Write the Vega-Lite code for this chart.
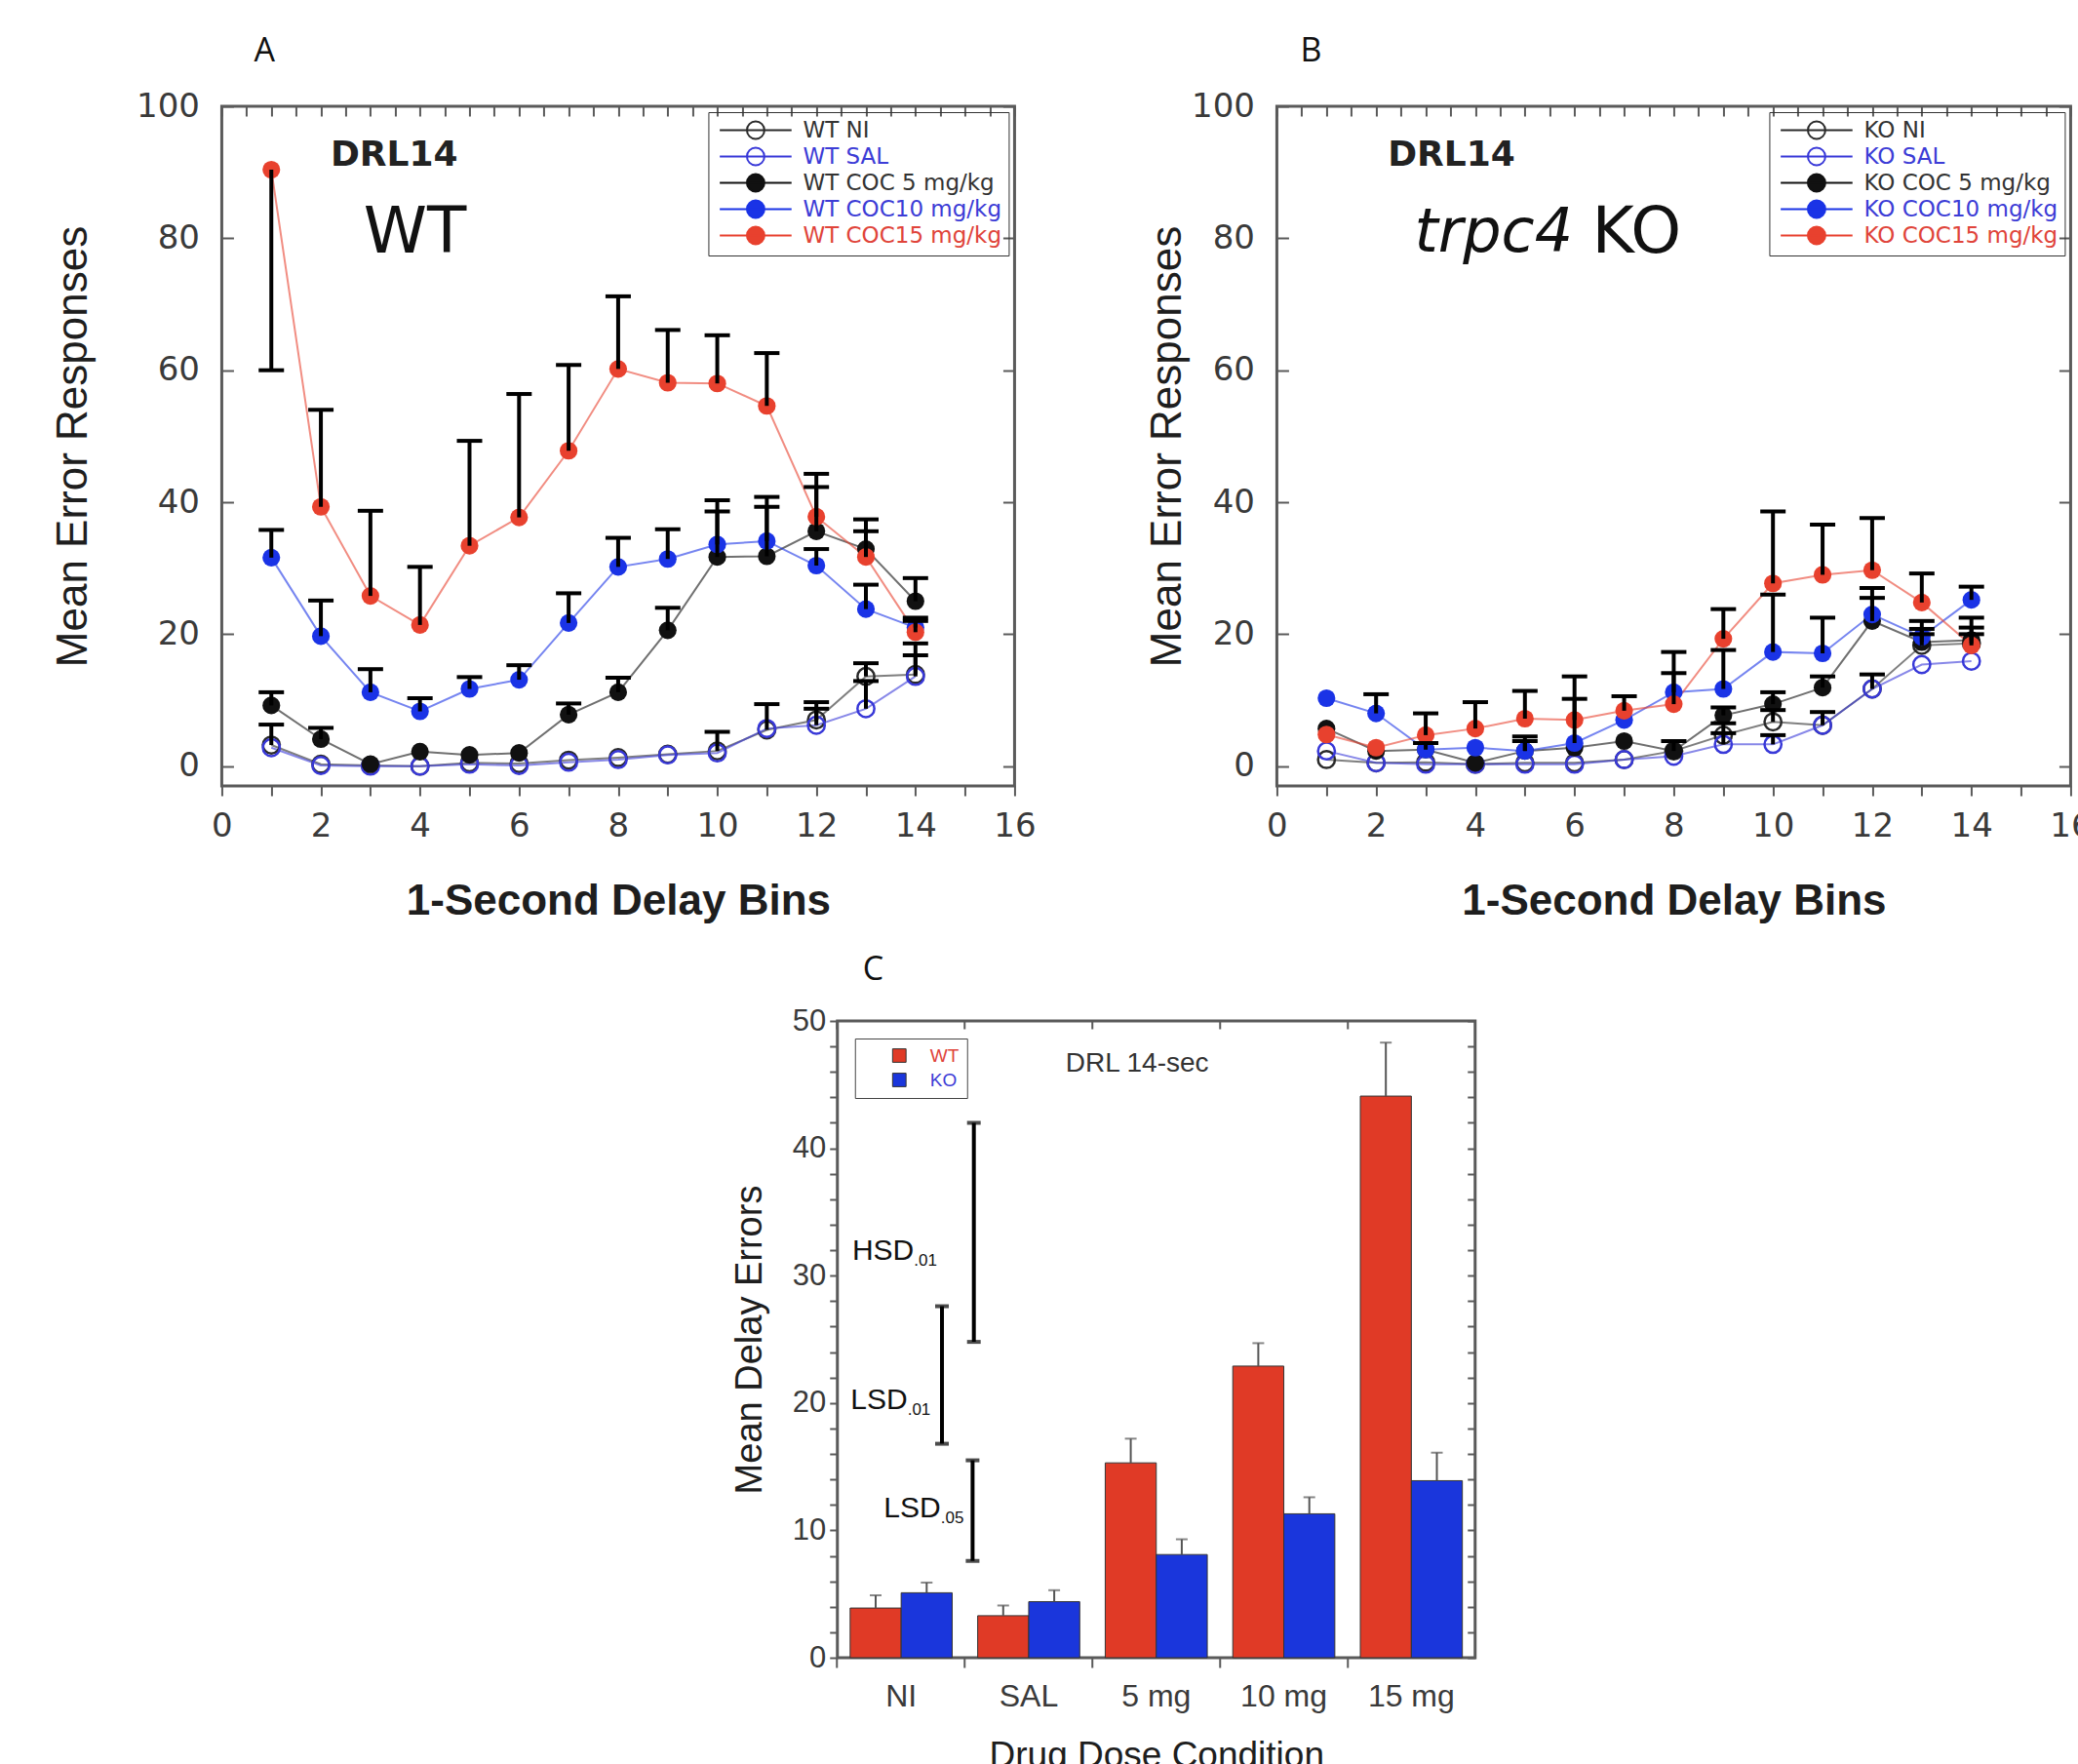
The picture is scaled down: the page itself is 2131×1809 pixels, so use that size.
{
"$schema": "https://vega.github.io/schema/vega-lite/v6.json",
"background": "white",
"padding": {"left": 52, "top": 34, "right": 0, "bottom": 0},
"config": {
  "view": {"stroke": "#5a5a5a", "strokeWidth": 3},
  "axis": {"grid": false, "domain": false, "labelColor": "#3a3a3a", "titleColor": "#1e1e1e", "tickColor": "#5a5a5a", "tickWidth": 2, "labelFont": "Liberation Sans", "titleFont": "Liberation Sans", "labelOverlap": false},
  "title": {"font": "Open Sans", "fontSize": 34, "fontWeight": "normal", "anchor": "start", "frame": "group", "color": "#111111"},
  "legend": {"titleFont": "Liberation Sans", "labelFont": "Liberation Sans"}
},
"datasets": {
  "wt": [
    {"bin":1,"series":"WT NI","mean":3.2,"cap":6.3},{"bin":2,"series":"WT NI","mean":0.3},{"bin":3,"series":"WT NI","mean":0.1},{"bin":4,"series":"WT NI","mean":0.0},{"bin":5,"series":"WT NI","mean":0.5},{"bin":6,"series":"WT NI","mean":0.4},{"bin":7,"series":"WT NI","mean":0.9},{"bin":8,"series":"WT NI","mean":1.3},{"bin":9,"series":"WT NI","mean":1.8},{"bin":10,"series":"WT NI","mean":2.3,"cap":5.2},{"bin":11,"series":"WT NI","mean":5.5,"cap":9.4},{"bin":12,"series":"WT NI","mean":7.0,"cap":9.7},{"bin":13,"series":"WT NI","mean":13.6,"cap":15.6},{"bin":14,"series":"WT NI","mean":13.9,"cap":18.6},
    {"bin":1,"series":"WT SAL","mean":2.8},{"bin":2,"series":"WT SAL","mean":0.1},{"bin":3,"series":"WT SAL","mean":0.0},{"bin":4,"series":"WT SAL","mean":0.0},{"bin":5,"series":"WT SAL","mean":0.3},{"bin":6,"series":"WT SAL","mean":0.1},{"bin":7,"series":"WT SAL","mean":0.6},{"bin":8,"series":"WT SAL","mean":1.0},{"bin":9,"series":"WT SAL","mean":1.7},{"bin":10,"series":"WT SAL","mean":2.0},{"bin":11,"series":"WT SAL","mean":5.7},{"bin":12,"series":"WT SAL","mean":6.2,"cap":8.7},{"bin":13,"series":"WT SAL","mean":8.7,"cap":12.9},{"bin":14,"series":"WT SAL","mean":13.6,"cap":16.8},
    {"bin":1,"series":"WT COC 5 mg/kg","mean":9.2,"cap":11.2},{"bin":2,"series":"WT COC 5 mg/kg","mean":4.1,"cap":5.8},{"bin":3,"series":"WT COC 5 mg/kg","mean":0.3},{"bin":4,"series":"WT COC 5 mg/kg","mean":2.2},{"bin":5,"series":"WT COC 5 mg/kg","mean":1.7},{"bin":6,"series":"WT COC 5 mg/kg","mean":2.0},{"bin":7,"series":"WT COC 5 mg/kg","mean":7.8,"cap":9.5},{"bin":8,"series":"WT COC 5 mg/kg","mean":11.2,"cap":13.4},{"bin":9,"series":"WT COC 5 mg/kg","mean":20.6,"cap":24.0},{"bin":10,"series":"WT COC 5 mg/kg","mean":31.7,"cap":40.3},{"bin":11,"series":"WT COC 5 mg/kg","mean":31.8,"cap":40.8},{"bin":12,"series":"WT COC 5 mg/kg","mean":35.6,"cap":42.3},{"bin":13,"series":"WT COC 5 mg/kg","mean":32.9,"cap":37.4},{"bin":14,"series":"WT COC 5 mg/kg","mean":25.0,"cap":28.5},
    {"bin":1,"series":"WT COC10 mg/kg","mean":31.6,"cap":35.8},{"bin":2,"series":"WT COC10 mg/kg","mean":19.7,"cap":25.1},{"bin":3,"series":"WT COC10 mg/kg","mean":11.2,"cap":14.7},{"bin":4,"series":"WT COC10 mg/kg","mean":8.3,"cap":10.3},{"bin":5,"series":"WT COC10 mg/kg","mean":11.7,"cap":13.5},{"bin":6,"series":"WT COC10 mg/kg","mean":13.1,"cap":15.3},{"bin":7,"series":"WT COC10 mg/kg","mean":21.7,"cap":26.2},{"bin":8,"series":"WT COC10 mg/kg","mean":30.2,"cap":34.6},{"bin":9,"series":"WT COC10 mg/kg","mean":31.4,"cap":35.9},{"bin":10,"series":"WT COC10 mg/kg","mean":33.6,"cap":38.6},{"bin":11,"series":"WT COC10 mg/kg","mean":34.1,"cap":39.3},{"bin":12,"series":"WT COC10 mg/kg","mean":30.4,"cap":32.9},{"bin":13,"series":"WT COC10 mg/kg","mean":23.8,"cap":27.5},{"bin":14,"series":"WT COC10 mg/kg","mean":21.0,"cap":22.0},
    {"bin":1,"series":"WT COC15 mg/kg","mean":90.4,"cap":60.0},{"bin":2,"series":"WT COC15 mg/kg","mean":39.3,"cap":54.0},{"bin":3,"series":"WT COC15 mg/kg","mean":25.8,"cap":38.7},{"bin":4,"series":"WT COC15 mg/kg","mean":21.4,"cap":30.2},{"bin":5,"series":"WT COC15 mg/kg","mean":33.4,"cap":49.3},{"bin":6,"series":"WT COC15 mg/kg","mean":37.7,"cap":56.4},{"bin":7,"series":"WT COC15 mg/kg","mean":47.8,"cap":60.8},{"bin":8,"series":"WT COC15 mg/kg","mean":60.2,"cap":71.2},{"bin":9,"series":"WT COC15 mg/kg","mean":58.1,"cap":66.1},{"bin":10,"series":"WT COC15 mg/kg","mean":58.0,"cap":65.3},{"bin":11,"series":"WT COC15 mg/kg","mean":54.6,"cap":62.6},{"bin":12,"series":"WT COC15 mg/kg","mean":37.8,"cap":44.3},{"bin":13,"series":"WT COC15 mg/kg","mean":31.7,"cap":35.6},{"bin":14,"series":"WT COC15 mg/kg","mean":20.3,"cap":22.5}
  ],
  "ko": [
    {"bin":1,"series":"KO NI","mean":1.0},{"bin":2,"series":"KO NI","mean":0.5},{"bin":3,"series":"KO NI","mean":0.6},{"bin":4,"series":"KO NI","mean":0.3},{"bin":5,"series":"KO NI","mean":0.5},{"bin":6,"series":"KO NI","mean":0.5},{"bin":7,"series":"KO NI","mean":1.0},{"bin":8,"series":"KO NI","mean":2.3},{"bin":9,"series":"KO NI","mean":4.7,"cap":6.5},{"bin":10,"series":"KO NI","mean":6.7,"cap":8.5},{"bin":11,"series":"KO NI","mean":6.2,"cap":8.2},{"bin":12,"series":"KO NI","mean":11.7,"cap":13.9},{"bin":13,"series":"KO NI","mean":18.3,"cap":20.0},{"bin":14,"series":"KO NI","mean":18.6,"cap":21.0},
    {"bin":1,"series":"KO SAL","mean":2.3},{"bin":2,"series":"KO SAL","mean":0.5},{"bin":3,"series":"KO SAL","mean":0.3},{"bin":4,"series":"KO SAL","mean":0.3},{"bin":5,"series":"KO SAL","mean":0.3},{"bin":6,"series":"KO SAL","mean":0.3},{"bin":7,"series":"KO SAL","mean":1.0},{"bin":8,"series":"KO SAL","mean":1.5},{"bin":9,"series":"KO SAL","mean":3.3,"cap":5.0},{"bin":10,"series":"KO SAL","mean":3.3,"cap":4.7},{"bin":11,"series":"KO SAL","mean":6.2},{"bin":12,"series":"KO SAL","mean":11.7},{"bin":13,"series":"KO SAL","mean":15.4},{"bin":14,"series":"KO SAL","mean":15.9},
    {"bin":1,"series":"KO COC 5 mg/kg","mean":5.7},{"bin":2,"series":"KO COC 5 mg/kg","mean":2.3},{"bin":3,"series":"KO COC 5 mg/kg","mean":2.5},{"bin":4,"series":"KO COC 5 mg/kg","mean":0.5},{"bin":5,"series":"KO COC 5 mg/kg","mean":2.3,"cap":3.8},{"bin":6,"series":"KO COC 5 mg/kg","mean":2.8},{"bin":7,"series":"KO COC 5 mg/kg","mean":3.8},{"bin":8,"series":"KO COC 5 mg/kg","mean":2.3,"cap":3.8},{"bin":9,"series":"KO COC 5 mg/kg","mean":7.7,"cap":8.9},{"bin":10,"series":"KO COC 5 mg/kg","mean":9.4,"cap":11.2},{"bin":11,"series":"KO COC 5 mg/kg","mean":11.9,"cap":13.6},{"bin":12,"series":"KO COC 5 mg/kg","mean":22.0,"cap":25.5},{"bin":13,"series":"KO COC 5 mg/kg","mean":18.8,"cap":20.8},{"bin":14,"series":"KO COC 5 mg/kg","mean":19.1,"cap":22.5},
    {"bin":1,"series":"KO COC10 mg/kg","mean":10.3},{"bin":2,"series":"KO COC10 mg/kg","mean":8.0,"cap":10.9},{"bin":3,"series":"KO COC10 mg/kg","mean":2.5,"cap":3.5},{"bin":4,"series":"KO COC10 mg/kg","mean":2.8},{"bin":5,"series":"KO COC10 mg/kg","mean":2.3,"cap":4.5},{"bin":6,"series":"KO COC10 mg/kg","mean":3.5,"cap":10.2},{"bin":7,"series":"KO COC10 mg/kg","mean":7.0},{"bin":8,"series":"KO COC10 mg/kg","mean":11.2,"cap":14.1},{"bin":9,"series":"KO COC10 mg/kg","mean":11.7,"cap":17.6},{"bin":10,"series":"KO COC10 mg/kg","mean":17.3,"cap":26.0},{"bin":11,"series":"KO COC10 mg/kg","mean":17.1,"cap":22.5},{"bin":12,"series":"KO COC10 mg/kg","mean":23.0,"cap":27.0},{"bin":13,"series":"KO COC10 mg/kg","mean":19.6,"cap":22.0},{"bin":14,"series":"KO COC10 mg/kg","mean":25.2,"cap":27.2},
    {"bin":1,"series":"KO COC15 mg/kg","mean":4.8},{"bin":2,"series":"KO COC15 mg/kg","mean":2.8},{"bin":3,"series":"KO COC15 mg/kg","mean":4.7,"cap":8.0},{"bin":4,"series":"KO COC15 mg/kg","mean":5.7,"cap":9.7},{"bin":5,"series":"KO COC15 mg/kg","mean":7.2,"cap":11.4},{"bin":6,"series":"KO COC15 mg/kg","mean":7.0,"cap":13.6},{"bin":7,"series":"KO COC15 mg/kg","mean":8.4,"cap":10.6},{"bin":8,"series":"KO COC15 mg/kg","mean":9.4,"cap":17.3},{"bin":9,"series":"KO COC15 mg/kg","mean":19.3,"cap":23.8},{"bin":10,"series":"KO COC15 mg/kg","mean":27.7,"cap":38.6},{"bin":11,"series":"KO COC15 mg/kg","mean":29.0,"cap":36.6},{"bin":12,"series":"KO COC15 mg/kg","mean":29.7,"cap":37.6},{"bin":13,"series":"KO COC15 mg/kg","mean":24.8,"cap":29.2},{"bin":14,"series":"KO COC15 mg/kg","mean":18.3,"cap":20.0}
  ],
  "bars": [
    {"dose":"NI","genotype":"WT","mean":3.9,"cap":4.9},{"dose":"NI","genotype":"KO","mean":5.1,"cap":5.9},
    {"dose":"SAL","genotype":"WT","mean":3.3,"cap":4.1},{"dose":"SAL","genotype":"KO","mean":4.4,"cap":5.3},
    {"dose":"5 mg","genotype":"WT","mean":15.3,"cap":17.2},{"dose":"5 mg","genotype":"KO","mean":8.1,"cap":9.3},
    {"dose":"10 mg","genotype":"WT","mean":22.9,"cap":24.7},{"dose":"10 mg","genotype":"KO","mean":11.3,"cap":12.6},
    {"dose":"15 mg","genotype":"WT","mean":44.1,"cap":48.3},{"dose":"15 mg","genotype":"KO","mean":13.9,"cap":16.1}
  ],
  "sig": [
    {"name":"HSD","sub":".01","pos":1.07,"lo":24.8,"hi":42.0,"tx":0.6,"ty":31.9},
    {"name":"LSD","sub":".01","pos":0.82,"lo":16.8,"hi":27.6,"tx":0.55,"ty":20.2},
    {"name":"LSD","sub":".05","pos":1.06,"lo":7.6,"hi":15.5,"tx":0.81,"ty":11.7}
  ]
},
"center": true,
"spacing": 28,
"resolve": {"scale": {"color": "independent", "fill": "independent"}, "legend": {"color": "independent", "fill": "independent"}},
"vconcat": [
  {"spacing": 109,
   "resolve": {"scale": {"color": "independent", "fill": "independent"}, "legend": {"color": "independent", "fill": "independent"}},
   "hconcat": [
    {
      "width": 813, "height": 697,
      "title": {"text": "A", "dx": 33, "offset": 22},
      "data": {"name": "wt"},
      "layer": [
        {"mark": {"type": "line", "strokeWidth": 2, "opacity": 0.6},
         "encoding": {
           "x": {"field": "bin", "type": "quantitative", "scale": {"domain": [0,16], "nice": false, "zero": false},
                 "axis": {"values": [0,0.5,1,1.5,2,2.5,3,3.5,4,4.5,5,5.5,6,6.5,7,7.5,8,8.5,9,9.5,10,10.5,11,11.5,12,12.5,13,13.5,14,14.5,15,15.5,16], "format": "d", "labelExpr": "datum.value % 2 == 0 ? datum.label : ''", "title": "1-Second Delay Bins", "titleFontSize": 44, "titleFontWeight": "bold", "titlePadding": 38, "labelFontSize": 34, "labelFont": "DejaVu Sans", "labelPadding": 14, "tickSize": 10, "labelFlush": false}},
           "y": {"field": "mean", "type": "quantitative", "scale": {"domain": [-3,100], "nice": false, "zero": false},
                 "axis": {"values": [0,20,40,60,80,100], "title": "Mean Error Responses", "titleFontSize": 44, "titleFontWeight": "normal", "titlePadding": 42, "labelFontSize": 34, "labelFont": "DejaVu Sans", "tickSize": -12, "labelPadding": 35}},
           "color": {"field": "series", "type": "nominal",
                     "scale": {"domain": ["WT NI","WT SAL","WT COC 5 mg/kg","WT COC10 mg/kg","WT COC15 mg/kg"], "range": ["#2a2a2a","#3838d8","#111111","#1a33e6","#e8412e"]},
                     "legend": {"title": null, "orient": "top-right", "offset": 6, "strokeColor": "#333333", "padding": 7,
                       "symbolType": "M-4.6,0L4.6,0M1.12,0A1.12,1.12,0,1,1,-1.12,0A1.12,1.12,0,1,1,1.12,0Z", "symbolSize": 256, "symbolStrokeWidth": 2, "symbolOffset": 30, "symbolOpacity": 1,
                       "symbolFillColor": {"expr": "indexof(datum.value,'COC') < 0 ? '#ffffff' : indexof(datum.value,'COC10') >= 0 ? '#1a33e6' : indexof(datum.value,'COC15') >= 0 ? '#e8412e' : '#111111'"},
                       "labelColor": {"expr": "indexof(datum.value,'SAL') >= 0 || indexof(datum.value,'COC10') >= 0 ? '#3c3cd6' : indexof(datum.value,'COC15') >= 0 ? '#e0443a' : '#333333'"},
                       "labelFont": "DejaVu Sans", "labelFontSize": 23, "labelOffset": 37, "rowPadding": 0, "labelLimit": 400}}
         }},
        {"transform": [{"filter": "indexof(datum.series,'COC') < 0"}],
         "mark": {"type": "point", "filled": false, "size": 300, "strokeWidth": 2.5, "opacity": 1},
         "encoding": {
           "x": {"field": "bin", "type": "quantitative", "axis": {"orient": "top", "values": [0,0.5,1,1.5,2,2.5,3,3.5,4,4.5,5,5.5,6,6.5,7,7.5,8,8.5,9,9.5,10,10.5,11,11.5,12,12.5,13,13.5,14,14.5,15,15.5,16], "labels": false, "title": null, "tickSize": -10}},
           "y": {"field": "mean", "type": "quantitative", "axis": {"orient": "right", "values": [0,20,40,60,80,100], "labels": false, "title": null, "tickSize": -12}},
           "color": {"field": "series", "type": "nominal"}
         }},
        {"transform": [{"filter": "indexof(datum.series,'COC') >= 0"}],
         "mark": {"type": "circle", "size": 330, "opacity": 1},
         "encoding": {
           "x": {"field": "bin", "type": "quantitative", "axis": null},
           "y": {"field": "mean", "type": "quantitative", "axis": null},
           "fill": {"field": "series", "type": "nominal", "scale": {"domain": ["WT NI","WT SAL","WT COC 5 mg/kg","WT COC10 mg/kg","WT COC15 mg/kg"], "range": ["#ffffff","#ffffff","#111111","#1a33e6","#e8412e"]}, "legend": null}
         }},
        {"transform": [{"filter": "datum.cap != null"}],
         "mark": {"type": "rule", "color": "#000000", "strokeWidth": 4},
         "encoding": {
           "x": {"field": "bin", "type": "quantitative", "axis": null},
           "y": {"field": "mean", "type": "quantitative", "axis": null},
           "y2": {"field": "cap"}
         }},
        {"transform": [{"filter": "datum.cap != null"}],
         "mark": {"type": "tick", "orient": "horizontal", "color": "#000000", "thickness": 4, "size": 26, "opacity": 1},
         "encoding": {
           "x": {"field": "bin", "type": "quantitative", "axis": null},
           "y": {"field": "cap", "type": "quantitative", "axis": null}
         }},
        {"data": {"values": [{"x": 3.48, "y": 92.6, "t": "DRL14"}]},
         "mark": {"type": "text", "font": "DejaVu Sans", "fontWeight": "bold", "fontSize": 36, "color": "#222222", "baseline": "middle"},
         "encoding": {"x": {"field": "x", "type": "quantitative", "axis": null}, "y": {"field": "y", "type": "quantitative", "axis": null}, "text": {"field": "t"}}},
        {"data": {"values": [{"x": 3.9, "y": 80.8, "t": "WT"}]},
         "mark": {"type": "text", "font": "DejaVu Sans", "fontSize": 66, "color": "#111111", "baseline": "middle"},
         "encoding": {"x": {"field": "x", "type": "quantitative", "axis": null}, "y": {"field": "y", "type": "quantitative", "axis": null}, "text": {"field": "t"}}}
      ],
      "resolve": {"axis": {"x": "independent", "y": "independent"}}
    },
    {
      "width": 814, "height": 697,
      "title": {"text": "B", "dx": 24, "offset": 22},
      "data": {"name": "ko"},
      "layer": [
        {"mark": {"type": "line", "strokeWidth": 2, "opacity": 0.6},
         "encoding": {
           "x": {"field": "bin", "type": "quantitative", "scale": {"domain": [0,16], "nice": false, "zero": false},
                 "axis": {"values": [0,0.5,1,1.5,2,2.5,3,3.5,4,4.5,5,5.5,6,6.5,7,7.5,8,8.5,9,9.5,10,10.5,11,11.5,12,12.5,13,13.5,14,14.5,15,15.5,16], "format": "d", "labelExpr": "datum.value % 2 == 0 ? datum.label : ''", "title": "1-Second Delay Bins", "titleFontSize": 44, "titleFontWeight": "bold", "titlePadding": 38, "labelFontSize": 34, "labelFont": "DejaVu Sans", "labelPadding": 14, "tickSize": 10, "labelFlush": false}},
           "y": {"field": "mean", "type": "quantitative", "scale": {"domain": [-3,100], "nice": false, "zero": false},
                 "axis": {"values": [0,20,40,60,80,100], "title": "Mean Error Responses", "titleFontSize": 44, "titleFontWeight": "normal", "titlePadding": 2, "labelFontSize": 34, "labelFont": "DejaVu Sans", "tickSize": -12, "labelPadding": 35}},
           "color": {"field": "series", "type": "nominal",
                     "scale": {"domain": ["KO NI","KO SAL","KO COC 5 mg/kg","KO COC10 mg/kg","KO COC15 mg/kg"], "range": ["#2a2a2a","#3838d8","#111111","#1a33e6","#e8412e"]},
                     "legend": {"title": null, "orient": "top-right", "offset": 6, "strokeColor": "#333333", "padding": 7,
                       "symbolType": "M-4.6,0L4.6,0M1.12,0A1.12,1.12,0,1,1,-1.12,0A1.12,1.12,0,1,1,1.12,0Z", "symbolSize": 256, "symbolStrokeWidth": 2, "symbolOffset": 30, "symbolOpacity": 1,
                       "symbolFillColor": {"expr": "indexof(datum.value,'COC') < 0 ? '#ffffff' : indexof(datum.value,'COC10') >= 0 ? '#1a33e6' : indexof(datum.value,'COC15') >= 0 ? '#e8412e' : '#111111'"},
                       "labelColor": {"expr": "indexof(datum.value,'SAL') >= 0 || indexof(datum.value,'COC10') >= 0 ? '#3c3cd6' : indexof(datum.value,'COC15') >= 0 ? '#e0443a' : '#333333'"},
                       "labelFont": "DejaVu Sans", "labelFontSize": 23, "labelOffset": 37, "rowPadding": 0, "labelLimit": 400}}
         }},
        {"transform": [{"filter": "indexof(datum.series,'COC') < 0"}],
         "mark": {"type": "point", "filled": false, "size": 300, "strokeWidth": 2.5, "opacity": 1},
         "encoding": {
           "x": {"field": "bin", "type": "quantitative", "axis": {"orient": "top", "values": [0,0.5,1,1.5,2,2.5,3,3.5,4,4.5,5,5.5,6,6.5,7,7.5,8,8.5,9,9.5,10,10.5,11,11.5,12,12.5,13,13.5,14,14.5,15,15.5,16], "labels": false, "title": null, "tickSize": -10}},
           "y": {"field": "mean", "type": "quantitative", "axis": {"orient": "right", "values": [0,20,40,60,80,100], "labels": false, "title": null, "tickSize": -12}},
           "color": {"field": "series", "type": "nominal"}
         }},
        {"transform": [{"filter": "indexof(datum.series,'COC') >= 0"}],
         "mark": {"type": "circle", "size": 330, "opacity": 1},
         "encoding": {
           "x": {"field": "bin", "type": "quantitative", "axis": null},
           "y": {"field": "mean", "type": "quantitative", "axis": null},
           "fill": {"field": "series", "type": "nominal", "scale": {"domain": ["KO NI","KO SAL","KO COC 5 mg/kg","KO COC10 mg/kg","KO COC15 mg/kg"], "range": ["#ffffff","#ffffff","#111111","#1a33e6","#e8412e"]}, "legend": null}
         }},
        {"transform": [{"filter": "datum.cap != null"}],
         "mark": {"type": "rule", "color": "#000000", "strokeWidth": 4},
         "encoding": {
           "x": {"field": "bin", "type": "quantitative", "axis": null},
           "y": {"field": "mean", "type": "quantitative", "axis": null},
           "y2": {"field": "cap"}
         }},
        {"transform": [{"filter": "datum.cap != null"}],
         "mark": {"type": "tick", "orient": "horizontal", "color": "#000000", "thickness": 4, "size": 26, "opacity": 1},
         "encoding": {
           "x": {"field": "bin", "type": "quantitative", "axis": null},
           "y": {"field": "cap", "type": "quantitative", "axis": null}
         }},
        {"data": {"values": [{"x": 3.52, "y": 92.6, "t": "DRL14"}]},
         "mark": {"type": "text", "font": "DejaVu Sans", "fontWeight": "bold", "fontSize": 36, "color": "#222222", "baseline": "middle"},
         "encoding": {"x": {"field": "x", "type": "quantitative", "axis": null}, "y": {"field": "y", "type": "quantitative", "axis": null}, "text": {"field": "t"}}},
        {"data": {"values": [{"x": 4.37, "y": 80.8, "t": "trpc4"}]},
         "mark": {"type": "text", "font": "DejaVu Sans", "fontStyle": "italic", "fontSize": 62, "color": "#111111", "baseline": "middle"},
         "encoding": {"x": {"field": "x", "type": "quantitative", "axis": null}, "y": {"field": "y", "type": "quantitative", "axis": null}, "text": {"field": "t"}}},
        {"data": {"values": [{"x": 7.25, "y": 80.8, "t": "KO"}]},
         "mark": {"type": "text", "font": "DejaVu Sans", "fontSize": 66, "color": "#111111", "baseline": "middle"},
         "encoding": {"x": {"field": "x", "type": "quantitative", "axis": null}, "y": {"field": "y", "type": "quantitative", "axis": null}, "text": {"field": "t"}}}
      ],
      "resolve": {"axis": {"x": "independent", "y": "independent"}}
    }
  ]},
  {
    "width": 654, "height": 653,
    "title": {"text": "C", "dx": 26, "offset": 19},
    "layer": [
      {"data": {"name": "bars"},
       "layer": [
         {"mark": {"type": "bar", "stroke": "#333333", "strokeWidth": 1},
          "encoding": {
            "x": {"field": "dose", "type": "nominal", "sort": ["NI","SAL","5 mg","10 mg","15 mg"], "scale": {"paddingInner": 0.2, "paddingOuter": 0.1},
                  "axis": {"title": "Drug Dose Condition", "titleFontSize": 37, "titleFontWeight": "normal", "titlePadding": 27, "labelFontSize": 32, "labelAngle": 0, "labelPadding": 14, "tickSize": 10, "bandPosition": -0.125}},
            "xOffset": {"field": "genotype", "type": "nominal", "sort": ["WT","KO"], "scale": {"paddingInner": 0, "paddingOuter": 0}},
            "y": {"field": "mean", "type": "quantitative", "scale": {"domain": [0,50], "nice": false},
                  "axis": {"values": [0,2,4,6,8,10,12,14,16,18,20,22,24,26,28,30,32,34,36,38,40,42,44,46,48,50], "labelExpr": "datum.value % 10 == 0 ? datum.label : ''", "title": "Mean Delay Errors", "titleFontSize": 38, "titleFontWeight": "normal", "titlePadding": 24, "labelFontSize": 31, "labelPadding": 4, "tickSize": 8}},
            "color": {"field": "genotype", "type": "nominal", "scale": {"domain": ["WT","KO"], "range": ["#e03a26","#1a36dc"]},
                      "legend": {"title": null, "orient": "top-left", "offset": 18, "strokeColor": "#444444", "padding": 8, "symbolType": "square", "symbolSize": 190, "symbolOffset": 28, "symbolStrokeWidth": 1, "symbolOpacity": 1, "symbolStrokeColor": "#333333", "labelFontSize": 19, "labelOffset": 22, "rowPadding": 5,
                        "labelColor": {"expr": "datum.value == 'WT' ? '#e0443a' : '#3c3cd6'"}}}
          }},
         {"mark": {"type": "rule", "color": "#555555", "strokeWidth": 2},
          "encoding": {
            "x": {"field": "dose", "type": "nominal", "sort": ["NI","SAL","5 mg","10 mg","15 mg"], "axis": {"orient": "top", "labels": false, "title": null, "tickSize": -8, "bandPosition": -0.125}},
            "xOffset": {"field": "genotype", "type": "nominal", "sort": ["WT","KO"]},
            "y": {"field": "mean", "type": "quantitative", "scale": {"domain": [0,50], "nice": false}, "axis": {"orient": "right", "values": [0,2,4,6,8,10,12,14,16,18,20,22,24,26,28,30,32,34,36,38,40,42,44,46,48,50], "labels": false, "title": null, "tickSize": -8}},
            "y2": {"field": "cap"}
          }},
         {"mark": {"type": "tick", "orient": "horizontal", "color": "#555555", "thickness": 2, "size": 12},
          "encoding": {
            "x": {"field": "dose", "type": "nominal", "sort": ["NI","SAL","5 mg","10 mg","15 mg"], "axis": null},
            "xOffset": {"field": "genotype", "type": "nominal", "sort": ["WT","KO"]},
            "y": {"field": "cap", "type": "quantitative", "axis": null}
          }}
       ],
       "resolve": {"axis": {"x": "independent", "y": "independent"}}
      },
      {"data": {"name": "sig"},
       "layer": [
         {"mark": {"type": "rule", "color": "#000000", "strokeWidth": 4},
          "encoding": {
            "x": {"field": "pos", "type": "quantitative", "scale": {"domain": [0,5], "nice": false, "zero": false}, "axis": null},
            "y": {"field": "lo", "type": "quantitative", "scale": {"domain": [0,50], "nice": false}, "axis": null},
            "y2": {"field": "hi"}
          }},
         {"mark": {"type": "tick", "orient": "horizontal", "color": "#000000", "thickness": 4, "size": 14},
          "encoding": {"x": {"field": "pos", "type": "quantitative", "axis": null}, "y": {"field": "lo", "type": "quantitative", "axis": null}}},
         {"mark": {"type": "tick", "orient": "horizontal", "color": "#000000", "thickness": 4, "size": 14},
          "encoding": {"x": {"field": "pos", "type": "quantitative", "axis": null}, "y": {"field": "hi", "type": "quantitative", "axis": null}}},
         {"mark": {"type": "text", "font": "Liberation Sans", "fontSize": 30, "align": "right", "baseline": "middle", "color": "#111111"},
          "encoding": {"x": {"field": "tx", "type": "quantitative", "axis": null}, "y": {"field": "ty", "type": "quantitative", "axis": null}, "text": {"field": "name"}}},
         {"mark": {"type": "text", "font": "Liberation Sans", "fontSize": 17, "align": "left", "baseline": "middle", "dy": 10, "color": "#111111"},
          "encoding": {"x": {"field": "tx", "type": "quantitative", "axis": null}, "y": {"field": "ty", "type": "quantitative", "axis": null}, "text": {"field": "sub"}}}
       ],
       "resolve": {"axis": {"x": "independent", "y": "independent"}}
      },
      {"data": {"values": [{"tx": 2.35, "ty": 46.6, "label": "DRL 14-sec"}]},
       "mark": {"type": "text", "font": "Liberation Sans", "fontSize": 28, "align": "center", "baseline": "middle", "color": "#333333"},
       "encoding": {
         "x": {"field": "tx", "type": "quantitative", "scale": {"domain": [0,5], "nice": false, "zero": false}, "axis": null},
         "y": {"field": "ty", "type": "quantitative", "scale": {"domain": [0,50], "nice": false}, "axis": null},
         "text": {"field": "label"}
       }}
    ],
    "resolve": {"scale": {"x": "independent"}, "axis": {"x": "independent", "y": "independent"}}
  }
]
}
